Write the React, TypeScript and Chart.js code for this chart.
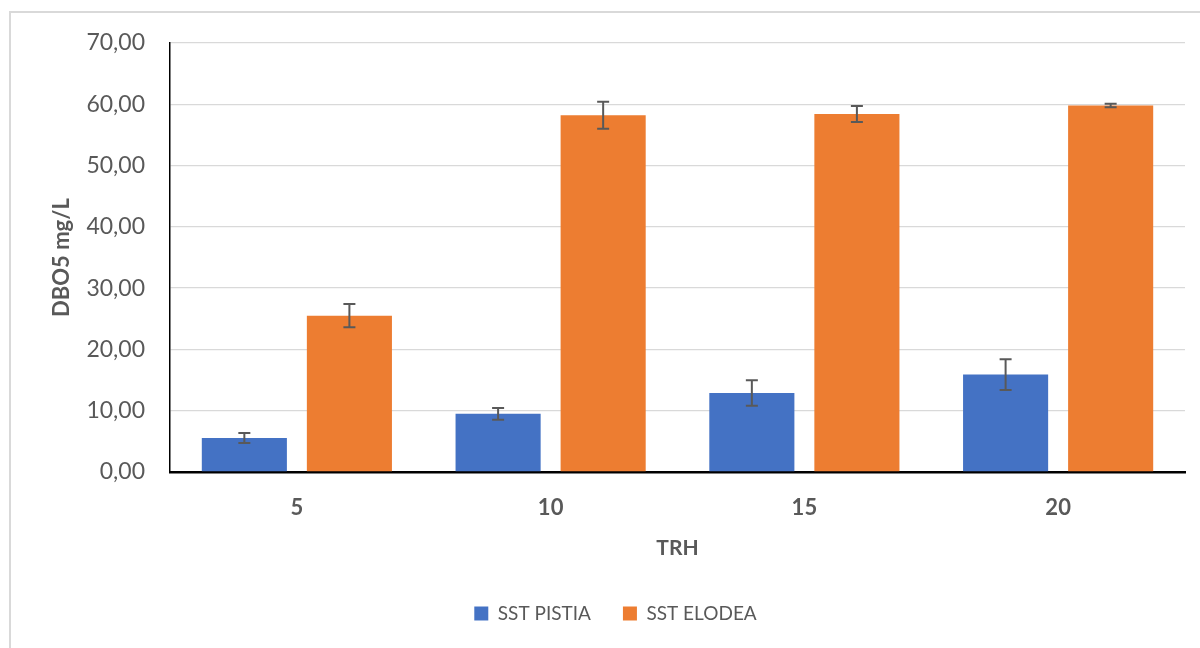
import React, { useEffect, useRef } from "react";
import { Chart, registerables } from "chart.js";

Chart.register(...registerables);

const categories = ["5", "10", "15", "20"];
const pistiaValues = [5.56, 9.49, 12.9, 15.9];
const pistiaErrors = [0.82, 0.95, 2.07, 2.5];
const elodeaValues = [25.5, 58.2, 58.4, 59.8];
const elodeaErrors = [1.9, 2.2, 1.3, 0.3];
const yTicks = [0, 10, 20, 30, 40, 50, 60, 70];

const FONT = "Lato, 'Open Sans', sans-serif";
const GRAY = "#595959";

const errorBarPlugin = {
  id: "errorBars",
  afterDatasetsDraw(chart: any) {
    const ctx = chart.ctx;
    const yScale = chart.scales.y;
    chart.data.datasets.forEach((ds: any, di: number) => {
      const meta = chart.getDatasetMeta(di);
      const errs: number[] = ds.errors || [];
      meta.data.forEach((bar: any, i: number) => {
        const v = ds.data[i];
        const e = errs[i];
        if (e == null) return;
        const x = bar.x;
        const yTop = yScale.getPixelForValue(v + e);
        const yBot = yScale.getPixelForValue(v - e);
        ctx.save();
        ctx.strokeStyle = GRAY;
        ctx.lineWidth = 2;
        ctx.beginPath();
        ctx.moveTo(x, yTop);
        ctx.lineTo(x, yBot);
        ctx.moveTo(x - 6, yTop);
        ctx.lineTo(x + 6, yTop);
        ctx.moveTo(x - 6, yBot);
        ctx.lineTo(x + 6, yBot);
        ctx.stroke();
        ctx.restore();
      });
    });
  },
};

export default function App() {
  const ref = useRef<HTMLCanvasElement>(null);
  useEffect(() => {
    if (!ref.current) return;
    const chart = new Chart(ref.current, {
      type: "bar",
      data: {
        labels: categories,
        datasets: [
          {
            label: "SST PISTIA",
            data: pistiaValues,
            errors: pistiaErrors,
            backgroundColor: "#4472C4",
            barPercentage: 0.81,
            categoryPercentage: 0.828,
          } as any,
          {
            label: "SST ELODEA",
            data: elodeaValues,
            errors: elodeaErrors,
            backgroundColor: "#ED7D31",
            barPercentage: 0.81,
            categoryPercentage: 0.828,
          } as any,
        ],
      },
      options: {
        responsive: false,
        animation: false,
        devicePixelRatio: 1,
        layout: { padding: { left: 46, right: 15, top: 43, bottom: 15 } },
        plugins: {
          legend: {
            position: "bottom",
            labels: {
              boxWidth: 14,
              boxHeight: 14,
              padding: 32,
              color: GRAY,
              font: { family: FONT, size: 19 },
            },
          },
          tooltip: { enabled: false },
        },
        scales: {
          x: {
            grid: { display: false, drawTicks: false },
            border: { color: "#000", width: 2.5 },
            ticks: {
              padding: 23,
              color: GRAY,
              font: { family: FONT, size: 22, weight: "bold" },
            },
            title: {
              display: true,
              text: "TRH",
              color: GRAY,
              font: { family: FONT, size: 21, weight: "bold" },
              padding: { top: 0, bottom: 11 },
            },
            afterFit: (s: any) => {
              s.height = 100;
            },
          },
          y: {
            min: 0,
            max: 70,
            afterBuildTicks: (s: any) => {
              s.ticks = yTicks.map((v) => ({ value: v }));
            },
            grid: { color: "#d9d9d9", lineWidth: 1.3, drawTicks: false },
            border: { color: "#000", width: 1.5 },
            ticks: {
              padding: 25,
              color: GRAY,
              font: { family: FONT, size: 23 },
              callback: (v: any) => Number(v).toFixed(2).replace(".", ","),
            },
            title: {
              display: true,
              text: "DBO5 mg/L",
              color: GRAY,
              font: { family: FONT, size: 22, weight: "bold" },
              padding: { top: 3, bottom: 0 },
            },
            afterFit: (s: any) => {
              s.width = 124;
            },
          },
        },
      } as any,
      plugins: [errorBarPlugin],
    });
    return () => chart.destroy();
  }, []);

  return (
    <div
      style={{
        position: "absolute",
        left: 0,
        top: 0,
        width: 1200,
        height: 648,
        overflow: "hidden",
        background: "#fff",
      }}
    >
      <div
        style={{
          position: "absolute",
          left: 9,
          top: 11,
          width: 1300,
          height: 800,
          border: "2px solid #d9d9d9",
        }}
      />
      <canvas
        ref={ref}
        width={1200}
        height={648}
        style={{ position: "absolute", left: 0, top: 0, width: 1200, height: 648 }}
      />
    </div>
  );
}
